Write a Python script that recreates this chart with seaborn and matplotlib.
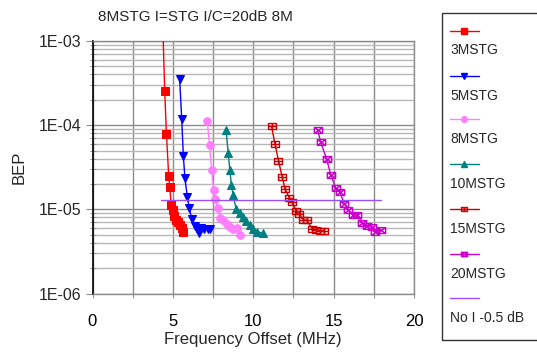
import matplotlib
matplotlib.use("Agg")
import matplotlib.pyplot as plt
from matplotlib.path import Path
from matplotlib.lines import Line2D
from matplotlib.patches import Rectangle
import numpy as np
import pandas as pd
import seaborn as sns

# ---------------- data ----------------
x_3m = [4.33, 4.49, 4.60, 4.74, 4.80, 4.90, 5.01, 5.10, 5.19, 5.32, 5.44, 5.57, 5.63]
y_3m = [3.0e-3, 2.56e-4, 7.87e-5, 2.51e-5, 1.85e-5, 1.12e-5, 9.9e-6, 8.26e-6, 7.41e-6,
        7.0e-6, 6.46e-6, 5.95e-6, 5.34e-6]

x_5m = [5.42, 5.55, 5.65, 5.75, 5.90, 6.02, 6.17, 6.35, 6.47, 6.60, 6.78, 6.94, 7.16, 7.31]
y_5m = [3.58e-4, 1.18e-4, 4.36e-5, 2.34e-5, 1.40e-5, 1.05e-5, 7.62e-6, 6.3e-6, 5.8e-6,
        5.2e-6, 5.96e-6, 5.8e-6, 5.8e-6, 5.9e-6]

x_8m = [7.14, 7.28, 7.41, 7.53, 7.64, 7.78, 7.94, 8.12, 8.34, 8.53, 8.72, 8.97, 9.18]
y_8m = [1.13e-4, 5.83e-5, 2.90e-5, 1.71e-5, 1.34e-5, 1.05e-5, 7.93e-6, 7.5e-6, 6.64e-6,
        6.2e-6, 5.88e-6, 5.96e-6, 4.92e-6]

x_10m = [8.31, 8.44, 8.54, 8.64, 8.75, 8.93, 9.15, 9.34, 9.56, 9.78, 9.98, 10.21, 10.62]
y_10m = [8.85e-5, 4.67e-5, 2.97e-5, 1.95e-5, 1.47e-5, 1.02e-5, 9.1e-6, 8.15e-6, 7.31e-6,
         6.56e-6, 5.91e-6, 5.42e-6, 5.2e-6]

x_15m = [11.14, 11.35, 11.57, 11.80, 11.99, 12.24, 12.43, 12.67, 12.86, 13.11, 13.33,
         13.67, 13.92, 14.17, 14.39]
y_15m = [9.66e-5, 6.0e-5, 3.8e-5, 2.43e-5, 1.73e-5, 1.37e-5, 1.22e-5, 9.47e-6, 8.72e-6,
         7.52e-6, 7.41e-6, 5.91e-6, 5.72e-6, 5.57e-6, 5.54e-6]

x_20m = [14.00, 14.20, 14.56, 14.83, 15.14, 15.39, 15.67, 15.92, 16.20, 16.45, 16.79,
         17.08, 17.37, 17.60, 17.97]
y_20m = [8.85e-5, 6.25e-5, 3.98e-5, 2.54e-5, 1.78e-5, 1.59e-5, 1.17e-5, 9.9e-6, 8.67e-6,
         8.49e-6, 6.97e-6, 6.38e-6, 6.2e-6, 5.38e-6, 5.69e-6]

x_noi = [4.25, 17.95]
y_noi = [1.28e-5, 1.28e-5]

series_names = ["3MSTG", "5MSTG", "8MSTG", "10MSTG", "15MSTG", "20MSTG", "No I -0.5 dB"]
x_ticks = [0, 2.5, 5, 7.5, 10, 12.5, 15, 17.5, 20]
x_ticklabels = ["0", "", "5", "", "10", "", "15", "", "20"]
y_ticks = [1e-6, 1e-5, 1e-4, 1e-3]
y_ticklabels = ["1E-06", "1E-05", "1E-04", "1E-03"]
title_text = "8MSTG I=STG I/C=20dB 8M"
x_label = "Frequency Offset (MHz)"
y_label = "BEP"

# ---------------- style ----------------
sns.set_style("white")
plt.rcParams["font.family"] = ["Liberation Sans", "DejaVu Sans"]

# custom markers: boxed plus / boxed cross
boxplus = Path(
    [(-1, -0.65), (1, -0.65), (1, 0.65), (-1, 0.65), (-1, -0.65),
     (-1, 0), (1, 0), (0, -0.65), (0, 0.65)],
    [Path.MOVETO, Path.LINETO, Path.LINETO, Path.LINETO, Path.LINETO,
     Path.MOVETO, Path.LINETO, Path.MOVETO, Path.LINETO])
boxtimes = Path(
    [(-1, -0.7), (1, -0.7), (1, 0.7), (-1, 0.7), (-1, -0.7),
     (-1, -0.7), (1, 0.7), (-1, 0.7), (1, -0.7)],
    [Path.MOVETO, Path.LINETO, Path.LINETO, Path.LINETO, Path.LINETO,
     Path.MOVETO, Path.LINETO, Path.MOVETO, Path.LINETO])

styles = [
    dict(color="#FF0000", marker="s", ms=5.5, mfc="#FF0000", mec="#FF0000"),
    dict(color="#0000FF", marker="v", ms=6, mfc="#0000FF", mec="#0000FF"),
    dict(color="#FF80FF", marker="o", ms=5.5, mfc="#FF80FF", mec="#FF80FF"),
    dict(color="#008080", marker="^", ms=6, mfc="#008080", mec="#008080"),
    dict(color="#CC0000", marker=boxplus, ms=6, mfc="none", mec="#CC0000", mew=1),
    dict(color="#CC00CC", marker=boxtimes, ms=6, mfc="none", mec="#CC00CC", mew=1),
    dict(color="#9A4DFF", marker=None),
]

W, H = 537, 352
fig = plt.figure(figsize=(W / 100, H / 100), dpi=100)
fig.patch.set_facecolor("white")
ax = fig.add_axes([92.5 / W, 1 - 293.5 / H, (414 - 92.5) / W, (293.5 - 41) / H])
ax.set_facecolor("white")

xs = [x_3m, x_5m, x_8m, x_10m, x_15m, x_20m, x_noi]
ys = [y_3m, y_5m, y_8m, y_10m, y_15m, y_20m, y_noi]
for xv, yv, st in zip(xs, ys, styles):
    df = pd.DataFrame({"x": xv, "y": yv})
    kw = dict(st)
    color = kw.pop("color")
    sns.lineplot(data=df, x="x", y="y", ax=ax, sort=False, estimator=None,
                 color=color, lw=1, legend=False, zorder=3, **kw)

ax.set_yscale("log")
ax.set_xlim(0, 20)
ax.set_ylim(1e-6, 1e-3)
ax.set_xticks(x_ticks, labels=x_ticklabels)
ax.set_yticks(y_ticks, labels=y_ticklabels)
ax.yaxis.set_minor_locator(matplotlib.ticker.LogLocator(base=10, subs=np.arange(2, 10)))
ax.yaxis.set_minor_formatter(matplotlib.ticker.NullFormatter())

ax.grid(which="major", axis="both", color="#8C8C8C", lw=1, zorder=0)
ax.grid(which="minor", axis="y", color="#B8B8B8", lw=1, zorder=0)
ax.set_axisbelow(True)

ax.tick_params(axis="x", which="major", bottom=True, length=3, color="#8C8C8C",
               labelsize=12, pad=12, labelcolor="black")
ax.tick_params(axis="y", which="major", left=True, length=5, color="#8C8C8C",
               labelsize=11.5, pad=3)
ax.tick_params(axis="y", which="minor", left=True, length=4, direction="inout",
               color="#8C8C8C")

for s in ["top", "right", "bottom"]:
    ax.spines[s].set_color("#8C8C8C")
    ax.spines[s].set_linewidth(1)
ax.spines["left"].set_color("black")
ax.spines["left"].set_linewidth(1.2)

ax.set_xlabel(x_label, fontsize=12, labelpad=2)
ax.set_ylabel(y_label, fontsize=12, labelpad=9)

fig.text(98 / W, 1 - 17 / H, title_text, fontsize=11, va="center", ha="left")

# ---------------- legend (handles above labels) ----------------
fig.add_artist(Rectangle((442 / W, 1 - 340 / H), (540 - 442) / W, (340 - 13) / H,
                         transform=fig.transFigure, fill=False, edgecolor="#333333",
                         lw=1, clip_on=False))
handle_y = [30.7, 76, 119.3, 164.3, 209.3, 254, 298.3]
for i, (name, st) in enumerate(zip(series_names, styles)):
    hy = handle_y[i]
    kw = dict(st)
    color = kw.pop("color")
    ms = kw.pop("ms", 0)
    ln = Line2D([449.5 / W, 464.3 / W, 479 / W], [1 - hy / H] * 3,
                transform=fig.transFigure, color=color, lw=1, ms=ms * 0.75,
                markevery=[1], **kw)
    fig.add_artist(ln)
    fig.text(450 / W, 1 - (hy + 19.5) / H, name, fontsize=10, va="center", ha="left")

fig.savefig("out.png", dpi=100, facecolor="white")
